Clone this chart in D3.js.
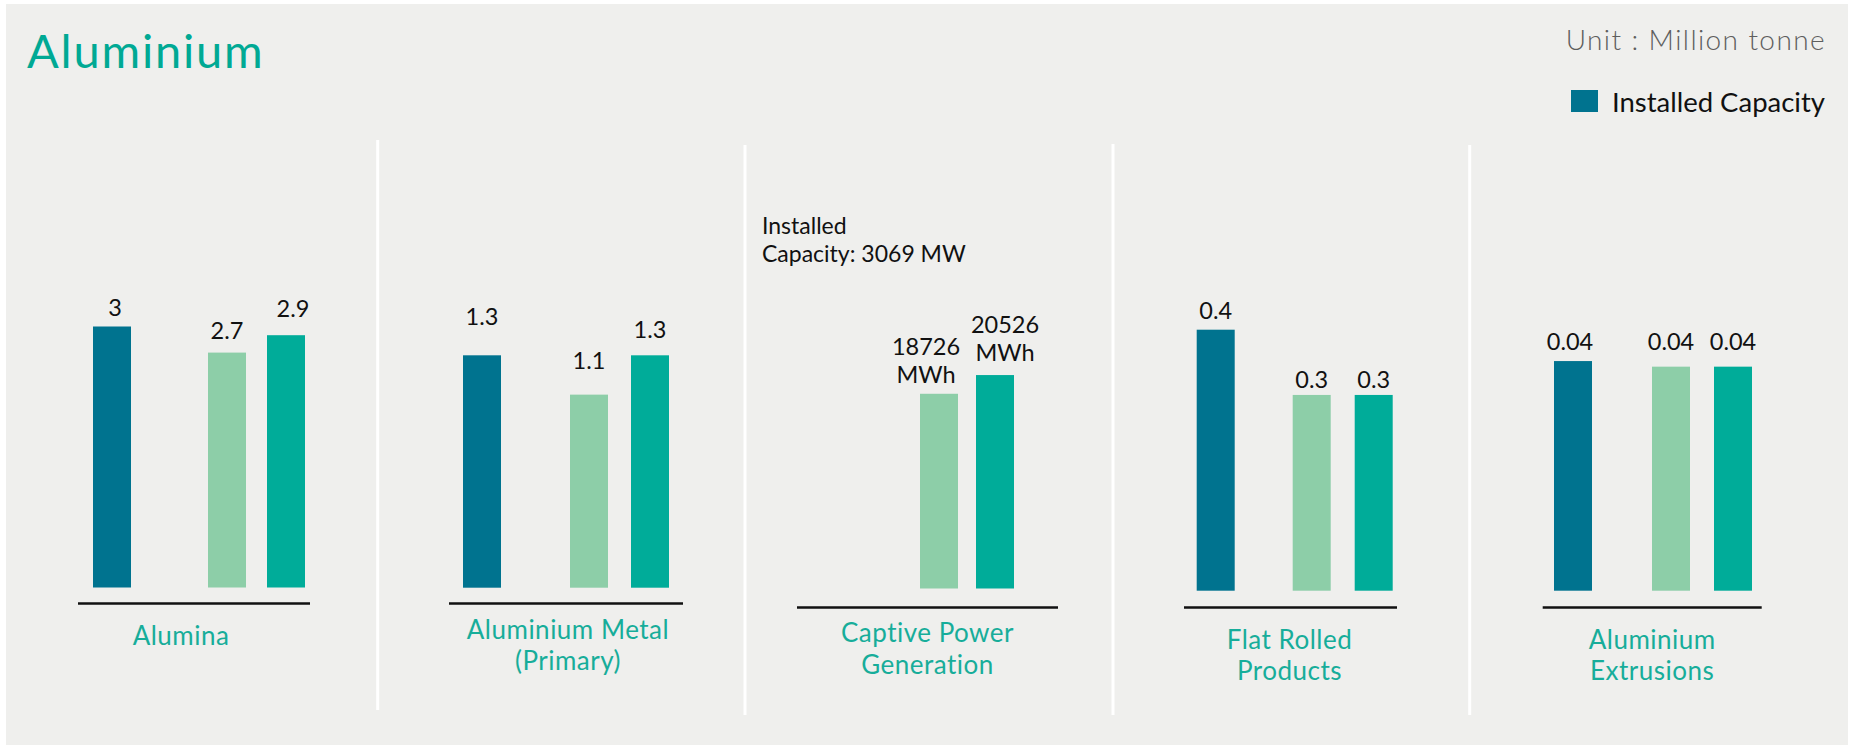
<!DOCTYPE html>
<html>
<head>
<meta charset="utf-8">
<script src="https://cdn.jsdelivr.net/npm/d3@7"></script>
<style>
  html, body { margin: 0; padding: 0; background: #ffffff; }
  svg { display: block; font-family: Lato, "Open Sans", sans-serif; }
</style>
</head>
<body>
<svg id="chart" width="1859" height="748"></svg>
<script>
// data
const seriesNames = ['Installed Capacity', 'Production (earlier year)', 'Production (later year)'];
const categories = ['Alumina', 'Aluminium Metal (Primary)', 'Captive Power Generation', 'Flat Rolled Products', 'Aluminium Extrusions'];
const categoryLines = [['Alumina'], ['Aluminium Metal', '(Primary)'], ['Captive Power', 'Generation'], ['Flat Rolled', 'Products'], ['Aluminium', 'Extrusions']];
const installedCapacity = [3, 1.3, null, 0.4, 0.041];
const productionEarlier = [2.7, 1.08, 18726, 0.3, 0.04];
const productionLater = [2.9, 1.3, 20526, 0.3, 0.04];
const installedLabels = [['3'], ['1.3'], [], ['0.4'], ['0.04']];
const earlierLabels = [['2.7'], ['1.1'], ['18726', 'MWh'], ['0.3'], ['0.04']];
const laterLabels = [['2.9'], ['1.3'], ['20526', 'MWh'], ['0.3'], ['0.04']];
const captiveNote = ['Installed', 'Capacity: 3069 MW'];
const unitText = 'Unit : Million tonne';
const titleText = 'Aluminium';

const colors = ['#00738f', '#8dcea8', '#00ac99'];

// layout (each panel has its own value scale)
const barHeight = 261;
const barWidth = 38;
const panels = [
  { max: 3,      x0: 78,     x1: 310,    barStart: 15,   gap1: 115, gap2: 59, baseY: 587.5, axisY: 603.5, labelDx: -13, labelDy: 41,   lift: [[3, 11], [0, 14], [7, 18]] },
  { max: 1.46,   x0: 449,    x1: 683,    barStart: 14,   gap1: 107, gap2: 61, baseY: 587.7, axisY: 603.5, labelDx: 2,   labelDy: 35,   lift: [[0, 30], [0, 26], [0, 17]] },
  { max: 25100,  x0: 797,    x1: 1058,   barStart: 23,   gap1: 100, gap2: 56, baseY: 588.5, axisY: 607.5, labelDx: 0,   labelDy: 34.5, lift: [[0, 0], [-13, 10.5], [10, 14]] },
  { max: 0.4,    x0: 1184,   x1: 1397,   barStart: 12.7, gap1: 96,  gap2: 62, baseY: 590.7, axisY: 607.5, labelDx: -1,  labelDy: 41,   lift: [[0, 10.5], [0, 6.5], [0, 6.5]] },
  { max: 0.0466, x0: 1542.7, x1: 1761.7, barStart: 11.3, gap1: 98,  gap2: 62, baseY: 590.7, axisY: 607.5, labelDx: 0,   labelDy: 41,   lift: [[-3, 11], [0, 17], [0, 17]] }
];
const dividers = [
  { x: 377.7, y0: 140, y1: 710 },
  { x: 745,   y0: 145, y1: 715 },
  { x: 1113,  y0: 144, y1: 715 },
  { x: 1469.7, y0: 145, y1: 715 }
];

const svg = d3.select('#chart');

svg.append('rect')
  .attr('x', 6).attr('y', 4)
  .attr('width', 1842).attr('height', 741)
  .attr('fill', '#efefed');

dividers.forEach(d => {
  svg.append('line')
    .attr('x1', d.x).attr('x2', d.x)
    .attr('y1', d.y0).attr('y2', d.y1)
    .attr('stroke', '#ffffff')
    .attr('stroke-width', 3);
});

// title, unit, legend
svg.append('text')
  .attr('x', 27).attr('y', 68)
  .attr('fill', '#00a994')
  .style('font-size', '47px')
  .style('letter-spacing', '1.8px')
  .text(titleText);

svg.append('text')
  .attr('x', 1826).attr('y', 50)
  .attr('text-anchor', 'end')
  .attr('fill', '#5e5e5e')
  .style('font-size', '28px')
  .style('font-weight', 300)
  .style('letter-spacing', '1.4px')
  .text(unitText);

svg.append('rect')
  .attr('x', 1571).attr('y', 90)
  .attr('width', 27).attr('height', 22)
  .attr('fill', colors[0]);

svg.append('text')
  .attr('x', 1825).attr('y', 111.5)
  .attr('text-anchor', 'end')
  .attr('fill', '#111')
  .style('font-size', '27.5px')
  .text(seriesNames[0]);

const seriesValues = [installedCapacity, productionEarlier, productionLater];
const seriesLabels = [installedLabels, earlierLabels, laterLabels];

panels.forEach((p, i) => {
  const g = svg.append('g');

  const y = d3.scaleLinear()
    .domain([0, p.max])
    .range([p.baseY, p.baseY - barHeight]);

  const first = p.x0 + p.barStart;
  const x = d3.scaleOrdinal()
    .domain(seriesNames)
    .range([first, first + p.gap1, first + p.gap1 + p.gap2]);

  const rows = seriesNames.map((name, s) => ({
    name: name,
    s: s,
    value: seriesValues[s][i],
    label: seriesLabels[s][i]
  })).filter(d => d.value != null);

  g.selectAll('rect.bar')
    .data(rows)
    .join('rect')
    .attr('class', 'bar')
    .attr('x', d => x(d.name))
    .attr('y', d => y(d.value))
    .attr('width', barWidth)
    .attr('height', d => y(0) - y(d.value))
    .attr('fill', d => colors[d.s]);

  // value labels, last line sits just above the bar
  const lineH = 28.5;
  rows.forEach(d => {
    const [dx, lift] = p.lift[d.s];
    const t = g.append('text')
      .attr('text-anchor', 'middle')
      .attr('fill', '#111')
      .style('font-size', '23.5px');
    const n = d.label.length;
    d.label.forEach((line, k) => {
      t.append('tspan')
        .attr('x', x(d.name) + barWidth / 2 + dx)
        .attr('y', y(d.value) - lift - (n - 1 - k) * lineH)
        .text(line);
    });
  });

  // baseline
  g.append('line')
    .attr('x1', p.x0).attr('x2', p.x1)
    .attr('y1', p.axisY).attr('y2', p.axisY)
    .attr('stroke', '#111')
    .attr('stroke-width', 2.5);

  // category label
  const cx = (p.x0 + p.x1) / 2 + p.labelDx;
  const cat = g.append('text')
    .attr('text-anchor', 'middle')
    .attr('fill', '#17ad9a')
    .style('font-size', '26px')
    .style('letter-spacing', '0.5px');
  categoryLines[i].forEach((line, k) => {
    cat.append('tspan')
      .attr('x', cx)
      .attr('y', p.axisY + p.labelDy + k * 31.5)
      .text(line);
  });
});

// note for captive power
const note = svg.append('text')
  .attr('fill', '#111')
  .style('font-size', '23px');
captiveNote.forEach((line, k) => {
  note.append('tspan')
    .attr('x', 762)
    .attr('y', 233.5 + k * 28.4)
    .text(line);
});
</script>
</body>
</html>
